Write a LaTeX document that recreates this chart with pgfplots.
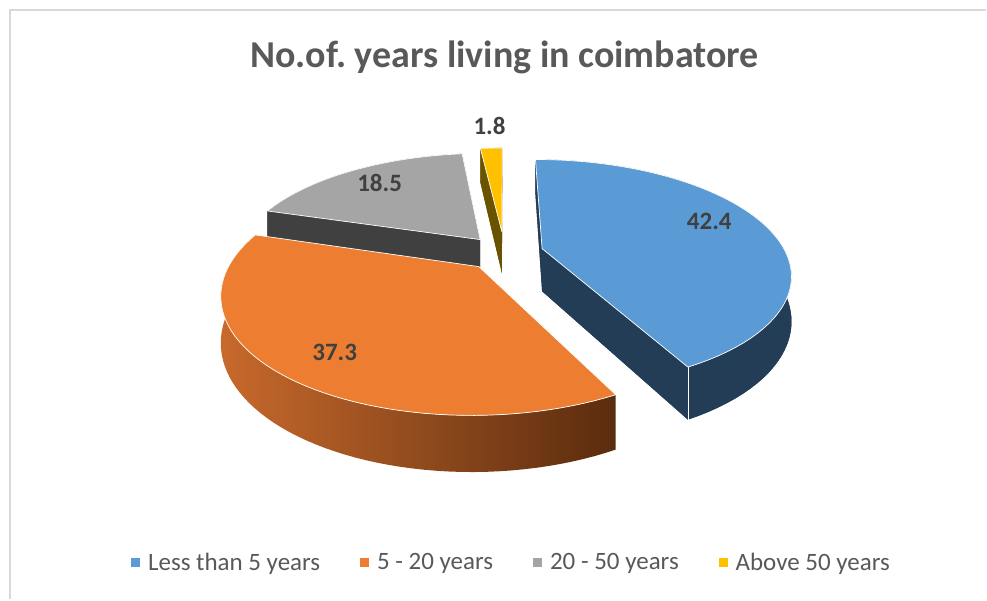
\documentclass[border=0pt]{standalone}
\usepackage{pgfplots}
\pgfplotsset{compat=1.18}
\usepackage{pgfplotstable}
\usepackage{fontspec}
\setmainfont{Carlito}
\frenchspacing

\definecolor{blueTop}{HTML}{5B9BD5}
\definecolor{blueWall}{HTML}{233D56}
\definecolor{orangeTop}{HTML}{ED7D31}
\definecolor{orangeWallL}{HTML}{C8692C}
\definecolor{orangeWallR}{HTML}{5A2C0E}
\definecolor{grayTop}{HTML}{A5A5A5}
\definecolor{grayWall}{HTML}{404040}
\definecolor{yellowTop}{HTML}{FFC000}
\definecolor{yellowWall}{HTML}{6A5300}
\definecolor{labelC}{HTML}{404040}
\definecolor{titleC}{HTML}{595959}
\definecolor{frameC}{HTML}{D9D9D9}

\pgfplotstableread[col sep=comma]{
name,value
Less than 5 years,42.4
5 - 20 years,37.3
20 - 50 years,18.5
Above 50 years,1.8
}\piedata

\pgfplotstablegetelem{0}{value}\of\piedata \edef\vA{\pgfplotsretval}
\pgfplotstablegetelem{1}{value}\of\piedata \edef\vB{\pgfplotsretval}
\pgfplotstablegetelem{2}{value}\of\piedata \edef\vC{\pgfplotsretval}
\pgfplotstablegetelem{3}{value}\of\piedata \edef\vD{\pgfplotsretval}

\pgfmathsetmacro\tot{\vA+\vB+\vC+\vD}
\pgfmathsetmacro\aA{90}
\pgfmathsetmacro\aB{\aA-360*\vA/\tot}
\pgfmathsetmacro\aC{\aB-360*\vB/\tot}
\pgfmathsetmacro\aD{\aC-360*\vC/\tot}
\pgfmathsetmacro\aE{\aD-360*\vD/\tot}
\pgfmathsetmacro\mA{(\aA+\aB)/2}
\pgfmathsetmacro\mB{(\aB+\aC)/2}
\pgfmathsetmacro\mC{(\aC+\aD)/2}
\pgfmathsetmacro\mD{(\aD+\aE)/2}

% a, b, explode, mid, colour
\newcommand\topface[5]{%
  \fill[#5, draw=white, line width=0.7pt, line join=round]
   (axis cs:{PX(0,0,#3,#4)},{PY(0,0,#3,#4,0)})
   \foreach \i in {0,...,60}{ -- (axis cs:{PX(1,(#1)+((#2)-(#1))*\i/60,#3,#4)},{PY(1,(#1)+((#2)-(#1))*\i/60,#3,#4,0)}) } -- cycle;}
\newcommand\bottomface[5]{%
  \fill[#5]
   (axis cs:{PX(0,0,#3,#4)},{PY(0,0,#3,#4,1)})
   \foreach \i in {0,...,60}{ -- (axis cs:{PX(1,(#1)+((#2)-(#1))*\i/60,#3,#4)},{PY(1,(#1)+((#2)-(#1))*\i/60,#3,#4,1)}) } -- cycle;}
\newcommand\outerwall[5]{%
  \path[#5]
   (axis cs:{PX(1,#1,#3,#4)},{PY(1,#1,#3,#4,0)})
   \foreach \i in {1,...,60}{ -- (axis cs:{PX(1,(#1)+((#2)-(#1))*\i/60,#3,#4)},{PY(1,(#1)+((#2)-(#1))*\i/60,#3,#4,0)}) }
   \foreach \i in {60,...,0}{ -- (axis cs:{PX(1,(#1)+((#2)-(#1))*\i/60,#3,#4)},{PY(1,(#1)+((#2)-(#1))*\i/60,#3,#4,1)}) } -- cycle;}
% t, explode, mid, style
\newcommand\radwall[4]{%
  \path[#4] (axis cs:{PX(0,0,#2,#3)},{PY(0,0,#2,#3,0)}) -- (axis cs:{PX(1,#1,#2,#3)},{PY(1,#1,#2,#3,0)})
   -- (axis cs:{PX(1,#1,#2,#3)},{PY(1,#1,#2,#3,1)}) -- (axis cs:{PX(0,0,#2,#3)},{PY(0,0,#2,#3,1)}) -- cycle;}
\newcommand\rimedge[4]{%
  \draw[#4] (axis cs:{PX(1,#1,#2,#3)},{PY(1,#1,#2,#3,0)}) -- (axis cs:{PX(1,#1,#2,#3)},{PY(1,#1,#2,#3,1)});}

\begin{document}
\begin{tikzpicture}[declare function={
  wx(\r,\t,\e,\m)=\r*cos(\t)+\e*cos(\m);
  wy(\r,\t,\e,\m)=\r*sin(\t)+\e*sin(\m);
  PX(\r,\t,\e,\m)=505+244*wx(\r,\t,\e,\m)/(1+0.215*wy(\r,\t,\e,\m));
  PY(\r,\t,\e,\m,\z)=253-(110*wy(\r,\t,\e,\m)-43*\z)/(1+0.215*wy(\r,\t,\e,\m));
}]
\begin{axis}[
  scale only axis, width=987pt, height=600pt,
  xmin=0, xmax=987, ymin=0, ymax=600, y dir=reverse,
  hide axis, clip=false,
  legend columns=4,
  legend style={draw=none, fill=none, at={(axis cs:512,563)}, anchor=center,
    font=\fontsize{25}{30}\selectfont, text=titleC,
    /tikz/every even column/.append style={column sep=38pt}},
  legend image code/.code={\fill[#1] (0pt,-4.5pt) rectangle (9pt,4.5pt); \path (15pt,0pt);},
]
\path (axis cs:0,0) rectangle (axis cs:987,600);
\draw[frameC, line width=2pt] (axis cs:10,600) -- (axis cs:10,10) -- (axis cs:987,10);

% gray slice
\bottomface{\aC}{\aD}{0.16}{\mC}{grayWall}
\radwall{\aC}{0.16}{\mC}{fill=grayWall}
\radwall{\aD}{0.16}{\mC}{fill=grayWall}
\outerwall{\aC}{\aD}{0.16}{\mC}{fill=grayWall}
\topface{\aC}{\aD}{0.16}{\mC}{grayTop}
% yellow slice
\bottomface{\aD}{\aE}{0.2}{\mD}{yellowWall}
\radwall{\aD}{0.2}{\mD}{fill=yellowWall}
\radwall{\aE}{0.2}{\mD}{fill=yellowWall}
\outerwall{\aD}{\aE}{0.2}{\mD}{fill=yellowWall}
\topface{\aD}{\aE}{0.2}{\mD}{yellowTop}
% blue slice
\bottomface{\aA}{\aB}{0.16}{\mA}{blueWall}
\radwall{\aA}{0.16}{\mA}{fill=blueWall}
\radwall{\aB}{0.16}{\mA}{fill=blueWall}
\outerwall{\aA}{\aB}{0.16}{\mA}{fill=blueWall}
\rimedge{\aB}{0.16}{\mA}{white, line width=0.7pt}
\topface{\aA}{\aB}{0.16}{\mA}{blueTop}
% orange slice
\outerwall{\aB}{\aC}{0.16}{\mB}{left color=orangeWallL, right color=orangeWallR}
\topface{\aB}{\aC}{0.16}{\mB}{orangeTop}

% title
\node[anchor=base, font=\fontsize{38}{44}\selectfont\bfseries, text=titleC] at (axis cs:505,68) {No.of. years living in coimbatore};
% data labels
\node[font=\fontsize{25}{30}\selectfont\bfseries, text=labelC] at (axis cs:710,222) {\vA};
\node[font=\fontsize{25}{30}\selectfont\bfseries, text=labelC] at (axis cs:335,353) {\vB};
\node[font=\fontsize{25}{30}\selectfont\bfseries, text=labelC] at (axis cs:380,183) {\vC};
\node[font=\fontsize{25}{30}\selectfont\bfseries, text=labelC] at (axis cs:490,126) {\vD};

\addlegendimage{fill=blueTop, draw=none}
\addlegendentry{Less than 5 years}
\addlegendimage{fill=orangeTop, draw=none}
\addlegendentry{5 - 20 years}
\addlegendimage{fill=grayTop, draw=none}
\addlegendentry{20 - 50 years}
\addlegendimage{fill=yellowTop, draw=none}
\addlegendentry{Above 50 years}
\end{axis}
\end{tikzpicture}
\end{document}
